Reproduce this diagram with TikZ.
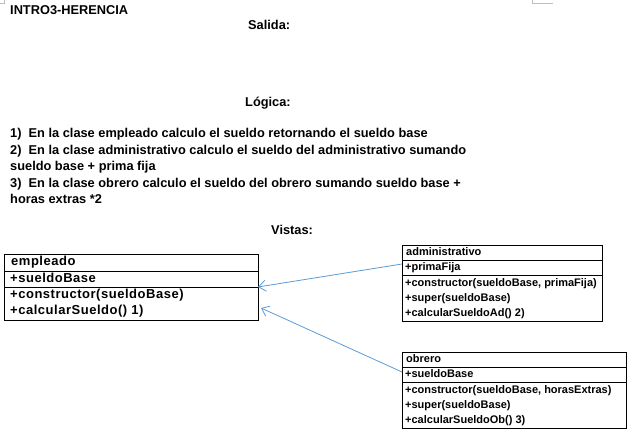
\documentclass[tikz,border=0pt]{standalone}
\usepackage{fontspec}
\setmainfont{Liberation Sans}
\usetikzlibrary{arrows.meta}
\definecolor{linkblue}{RGB}{91,155,213}
\definecolor{markgray}{RGB}{190,190,190}
\begin{document}
\begin{tikzpicture}[x=1pt,y=-1pt,
  txt/.style={anchor=base west,inner sep=0pt,font=\fontsize{12.8}{14}\selectfont\bfseries},
  btxt/.style={anchor=base west,inner sep=0pt,font=\fontsize{13}{14}\selectfont\bfseries\addfontfeature{LetterSpace=4}},
  stxt/.style={anchor=base west,inner sep=0pt,font=\fontsize{11}{12}\selectfont\bfseries},
  cbox/.style={draw=black,line width=0.8pt,anchor=north west,inner sep=0pt},
  divider/.style={draw=black,line width=0.8pt},
  inh/.style={draw=linkblue,line width=0.8pt,-{Straight Barb[length=7pt,width=11pt]}},
  cornermark/.style={draw=markgray,line width=0.6pt}
]
\useasboundingbox (0,0) rectangle (633,435);
% page corner marks
\draw[cornermark] (0,3) -- (4,3) -- (4,0);
\draw[cornermark] (532,0) -- (532,3) -- (553,3);

% header texts
\node[txt] (title) at (10,15) {INTRO3-HERENCIA};
\node[txt] (salida) at (248,30) {Salida:};
\node[txt] (logica) at (245,107) {Lógica:};
\node[txt] (l1) at (10,138) {1)\ \ En la clase empleado calculo el sueldo retornando el sueldo base};
\node[txt] (l2) at (10,155) {2)\ \ En la clase administrativo calculo el sueldo del administrativo sumando};
\node[txt] (l3) at (10,171) {sueldo base + prima fija};
\node[txt] (l4) at (10,188) {3)\ \ En la clase obrero calculo el sueldo del obrero sumando sueldo base +};
\node[txt] (l5) at (10,204) {horas extras *2};
\node[txt] (vistas) at (271,235) {Vistas:};

% empleado
\node[cbox,minimum width=254pt,minimum height=66pt] (emp) at (4,254) {};
\draw[divider] (4,271) -- (258,271);
\draw[divider] (4,287) -- (258,287);
\node[btxt] (e0) at (11,266) {empleado};
\node[btxt] (e1) at (10,283) {+sueldoBase};
\node[btxt] (e2) at (10,299) {+constructor(sueldoBase)};
\node[btxt] (e3) at (10,315) {+calcularSueldo() 1)};

% administrativo
\node[cbox,minimum width=200pt,minimum height=76pt] (adm) at (402,245) {};
\draw[divider] (402,260) -- (602,260);
\draw[divider] (402,275) -- (602,275);
\node[stxt] (a0) at (406,256) {administrativo};
\node[stxt] (a1) at (405,271) {+primaFija};
\node[stxt] (a2) at (405,287) {+constructor(sueldoBase, primaFija)};
\node[stxt] (a3) at (405,302) {+super(sueldoBase)};
\node[stxt] (a4) at (405,317) {+calcularSueldoAd() 2)};

% obrero
\node[cbox,minimum width=224pt,minimum height=76pt] (obr) at (402,352) {};
\draw[divider] (402,367) -- (626,367);
\draw[divider] (402,382) -- (626,382);
\node[stxt] (o0) at (406,363) {obrero};
\node[stxt] (o1) at (405,378) {+sueldoBase};
\node[stxt] (o2) at (405,394) {+constructor(sueldoBase, horasExtras)};
\node[stxt] (o3) at (405,409) {+super(sueldoBase)};
\node[stxt] (o4) at (405,424) {+calcularSueldoOb() 3)};

% inheritance connectors
\coordinate (admout) at (402,264);
\coordinate (empin1) at (258,287);
\coordinate (obrout) at (402,372);
\coordinate (empin2) at (261,308);
\draw[inh] (admout) -- (empin1);
\draw[inh] (obrout) -- (empin2);
\end{tikzpicture}
\end{document}
